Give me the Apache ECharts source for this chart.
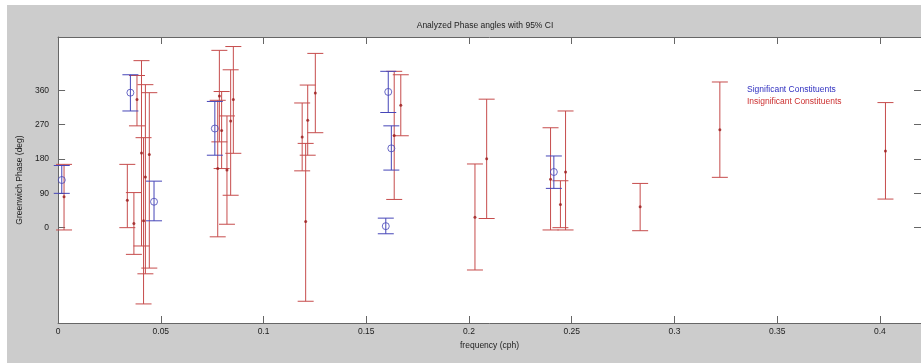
<!DOCTYPE html>
<html>
<head>
<meta charset="utf-8">
<script src="https://cdn.jsdelivr.net/npm/echarts@6.0.0/dist/echarts.min.js"></script>
<style>
  html, body { margin: 0; padding: 0; background: #fff; overflow: hidden; }
  #wrap { position: relative; width: 921px; height: 363px; background: #fff; }
  #chart { position: absolute; left: 7px; top: 5px; width: 914px; height: 358px; }
</style>
</head>
<body>
<div id="wrap"><div id="chart"></div></div>
<script>
// significant constituents (blue)
var sigFreq  = [0.0018, 0.0352, 0.0467, 0.0763, 0.1595, 0.1607, 0.1622, 0.2413];
var sigPhase = [125, 354, 68, 260, 4, 356, 208, 146];
var sigLow   = [90, 306, 18, 190, -16, 302, 151, 103];
var sigHigh  = [163, 401, 122, 331, 25, 410, 267, 188];

// insignificant constituents (red)
var insFreq  = [0.0029, 0.0337, 0.0369, 0.0384, 0.0406, 0.0416, 0.0425, 0.0444,
                0.0777, 0.0785, 0.0796, 0.0822, 0.0840, 0.0853,
                0.1188, 0.1205, 0.1215, 0.1252, 0.1636, 0.1668,
                0.2029, 0.2086, 0.2397, 0.2445, 0.2470, 0.2833, 0.3221, 0.4027];
var insPhase = [81, 72, 11, 336, 196, 18, 133, 192,
                155, 345, 255, 151, 280, 336,
                238, 16, 282, 353, 242, 321,
                27, 181, 127, 61, 146, 55, 257, 201];
var insLow   = [-6, 0, -70, 267, -48, -200, -121, -106,
                -24, 225, 155, 9, 85, 195,
                149, -193, 190, 249, 74, 241,
                -111, 24, -6, 0, -6, -8, 132, 75];
var insHigh  = [166, 166, 92, 399, 438, 236, 375, 354,
                334, 465, 357, 293, 414, 475,
                327, 221, 374, 457, 410, 401,
                167, 337, 262, 123, 306, 116, 382, 328];

var xTicks = [0, 0.05, 0.1, 0.15, 0.2, 0.25, 0.3, 0.35, 0.4];
var yTicks = [0, 90, 180, 270, 360];

var SIG = 'Significant Constituents';
var INS = 'Insignificant Constituents';
var blue = '#4646b8';
var red = '#c64c4c';
var font = "'Liberation Sans', Arial, sans-serif";

function zip3(f, lo, hi) {
  return f.map(function (v, i) { return [v, lo[i], hi[i]]; });
}
function zip2(f, p) {
  return f.map(function (v, i) { return [v, p[i]]; });
}

// error bar: vertical line plus two caps
function errorBar(color) {
  return function (params, api) {
    var x = api.value(0);
    var top = api.coord([x, api.value(2)]);
    var bot = api.coord([x, api.value(1)]);
    var hw = 8;
    var style = { stroke: color, lineWidth: 1 };
    return {
      type: 'group',
      children: [
        { type: 'line', shape: { x1: top[0], y1: top[1], x2: bot[0], y2: bot[1] }, style: style },
        { type: 'line', shape: { x1: top[0] - hw, y1: top[1], x2: top[0] + hw, y2: top[1] }, style: style },
        { type: 'line', shape: { x1: bot[0] - hw, y1: bot[1], x2: bot[0] + hw, y2: bot[1] }, style: style }
      ]
    };
  };
}

var axisLine = { show: true, onZero: false, lineStyle: { color: '#666', width: 1 } };
var tick = function (vals) {
  return { show: true, inside: true, length: 7, customValues: vals, lineStyle: { color: '#666' } };
};
var labelStyle = { fontSize: 8.5, color: '#222', fontFamily: font };

var chart = echarts.init(document.getElementById('chart'), null, { renderer: 'canvas' });
chart.setOption({
  backgroundColor: '#cccccc',
  animation: false,
  textStyle: { fontFamily: font },
  title: {
    text: 'Analyzed Phase angles with 95% CI',
    left: 478,
    textAlign: 'center',
    top: 16,
    padding: 0,
    textStyle: { fontSize: 8.5, fontWeight: 'normal', color: '#222', fontFamily: font }
  },
  legend: {
    orient: 'vertical',
    left: 730,
    top: 75,
    icon: 'none',
    itemWidth: 0,
    itemHeight: 0,
    itemGap: 3,
    selectedMode: false,
    textStyle: { fontSize: 8.5, lineHeight: 9, fontFamily: font },
    data: [
      { name: SIG, textStyle: { color: '#3030c0' } },
      { name: INS, textStyle: { color: '#cc3030' } }
    ]
  },
  grid: {
    left: 42, top: 32, width: 874, height: 286,
    show: true, backgroundColor: '#fff', borderWidth: 0
  },
  xAxis: [{
    type: 'value', min: 0, max: 0.42, position: 'bottom',
    name: 'frequency (cph)', nameLocation: 'middle', nameGap: 12,
    nameTextStyle: labelStyle,
    axisLine: axisLine,
    axisTick: tick(xTicks),
    axisLabel: Object.assign({ margin: 4, customValues: xTicks }, labelStyle),
    splitLine: { show: false }
  }, {
    type: 'value', min: 0, max: 0.42, position: 'top',
    axisLine: axisLine,
    axisTick: tick(xTicks),
    axisLabel: { show: false },
    splitLine: { show: false }
  }],
  yAxis: [{
    type: 'value', min: -250, max: 500, position: 'left',
    name: 'Greenwich Phase (deg)', nameLocation: 'middle', nameGap: 23,
    nameTextStyle: labelStyle,
    axisLine: axisLine,
    axisTick: tick(yTicks),
    axisLabel: Object.assign({ margin: 9, customValues: yTicks }, labelStyle),
    splitLine: { show: false }
  }, {
    type: 'value', min: -250, max: 500, position: 'right',
    axisLine: axisLine,
    axisTick: tick(yTicks),
    axisLabel: { show: false },
    splitLine: { show: false }
  }],
  series: [
    {
      name: INS, type: 'custom', renderItem: errorBar(red),
      data: zip3(insFreq, insLow, insHigh), encode: { x: 0, y: [1, 2] }, z: 2
    },
    {
      name: INS, type: 'scatter', data: zip2(insFreq, insPhase),
      symbol: 'circle', symbolSize: 3, itemStyle: { color: '#9a1a1a' }, z: 4
    },
    {
      name: SIG, type: 'custom', renderItem: errorBar(blue),
      data: zip3(sigFreq, sigLow, sigHigh), encode: { x: 0, y: [1, 2] }, z: 3
    },
    {
      name: SIG, type: 'scatter', data: zip2(sigFreq, sigPhase),
      symbol: 'circle', symbolSize: 7,
      itemStyle: { color: 'rgba(255,255,255,0)', borderColor: blue, borderWidth: 1 }, z: 5
    }
  ]
});
</script>
</body>
</html>
